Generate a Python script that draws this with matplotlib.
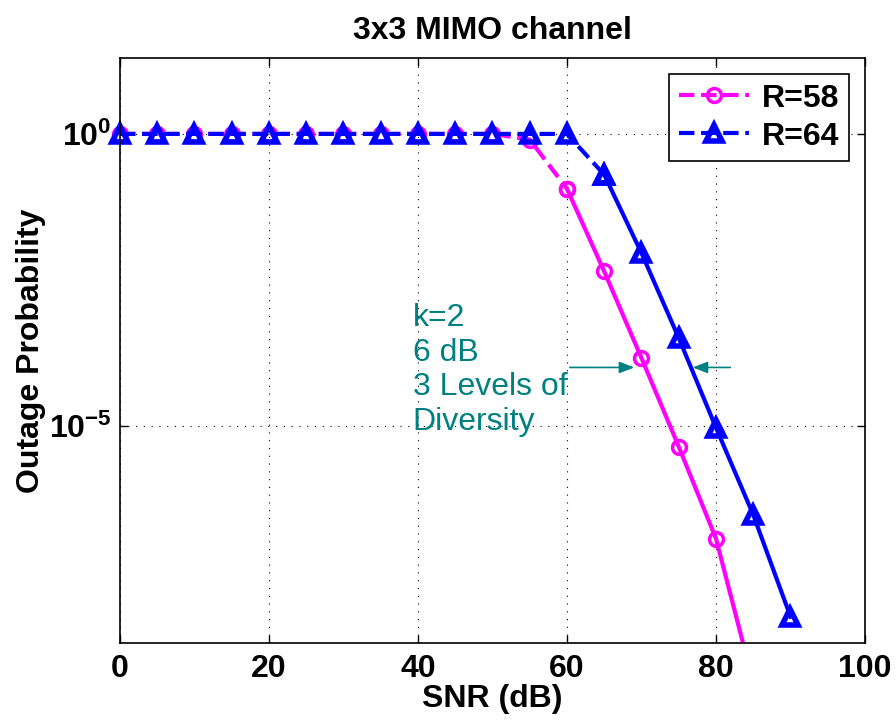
import numpy as np
import matplotlib
matplotlib.use("Agg")
import matplotlib.pyplot as plt
from matplotlib.ticker import NullLocator

plt.rcParams['font.family'] = ['Liberation Sans', 'DejaVu Sans']
plt.rcParams['mathtext.fontset'] = 'custom'
plt.rcParams['mathtext.rm'] = 'Liberation Sans:bold'
plt.rcParams['mathtext.bf'] = 'Liberation Sans:bold'
plt.rcParams['mathtext.default'] = 'bf'

# SNR grid (dB)
snr = np.arange(0, 95, 5)

# outage probability
p58 = [1, 1, 1, 1, 1, 1, 1, 1, 1, 1, 1, 0.8, 0.115, 4.4e-3, 1.45e-4, 4.4e-6, 1.17e-7, 4e-10]
p64 = [1, 1, 1, 1, 1, 1, 1, 1, 1, 1, 1, 1, 1, 0.2, 9.1e-3, 3.2e-4, 9.3e-6, 3.0e-7, 5.4e-9]

# index where the curve switches from dashed to solid
split58 = 12  # 60 dB
split64 = 13  # 65 dB

note_text = "k=2\n6 dB\n3 Levels of\nDiversity"
teal = (0, 0.5, 0.5)
fs = 23

fig = plt.figure(figsize=(8.96, 7.26), dpi=100)
ax = fig.add_axes([0.1339, 0.1143, 0.8315, 0.8058])

x58 = snr[:len(p58)]
x64 = snr[:len(p64)]

mk58 = dict(marker='o', ms=10, mfc='none', mec='magenta', mew=2.5)
mk64 = dict(marker='^', ms=12, mfc='none', mec='blue', mew=4)

ax.semilogy(x58[:split58 + 1], p58[:split58 + 1], '--', color='magenta', lw=3, label='R=58',
            clip_on=False, **mk58)
ax.semilogy(x58[split58:], p58[split58:], '-', color='magenta', lw=3, **mk58)
ax.semilogy(x64[:split64 + 1], p64[:split64 + 1], '--', color='blue', lw=3, label='R=64',
            clip_on=False, **mk64)
ax.semilogy(x64[split64:], p64[split64:], '-', color='blue', lw=3, **mk64)

ax.set_xlim(0, 100)
ax.set_ylim(10**-8.72, 10**1.3)
ax.set_xticks([0, 20, 40, 60, 80, 100])
ax.set_yticks([1e-5, 1])
ax.set_yticklabels([r'$10^{-5}$', r'$10^{0}$'])
ax.yaxis.set_minor_locator(NullLocator())
ax.tick_params(direction='in', top=True, right=True, length=6, width=1, labelsize=fs)
ax.tick_params(axis='x', pad=8)
ax.tick_params(axis='y', pad=6)
for lab in ax.get_xticklabels():
    lab.set_fontweight('bold')
ax.grid(True, color='black', linestyle=(0, (1, 6)), lw=0.8)
for s in ax.spines.values():
    s.set_linewidth(1.2)

ax.set_title('3x3 MIMO channel', fontsize=fs, fontweight='bold', pad=14)
ax.set_xlabel('SNR (dB)', fontsize=fs, fontweight='bold', labelpad=0)
ax.set_ylabel('Outage Probability', fontsize=fs, fontweight='bold', labelpad=2)

ax.text(39.3, 10**-2.9, note_text, color=teal, fontsize=fs, va='top', ha='left', linespacing=1.2)
ax.annotate('', xy=(69.4, 1e-4), xytext=(60, 1e-4),
            arrowprops=dict(arrowstyle='-|>,head_length=0.9,head_width=0.35', color=teal, lw=1.2))
ax.annotate('', xy=(76.5, 1e-4), xytext=(82.3, 1e-4),
            arrowprops=dict(arrowstyle='-|>,head_length=0.9,head_width=0.35', color=teal, lw=1.2))

leg = ax.legend(loc='upper right', prop={'weight': 'bold', 'size': fs},
                fancybox=False, edgecolor='black', framealpha=1, handlelength=2.2,
                borderaxespad=0.5, labelspacing=0.25, handletextpad=0.4, borderpad=0.3)
leg.get_frame().set_linewidth(1.2)

fig.savefig('out.png', dpi=100)
